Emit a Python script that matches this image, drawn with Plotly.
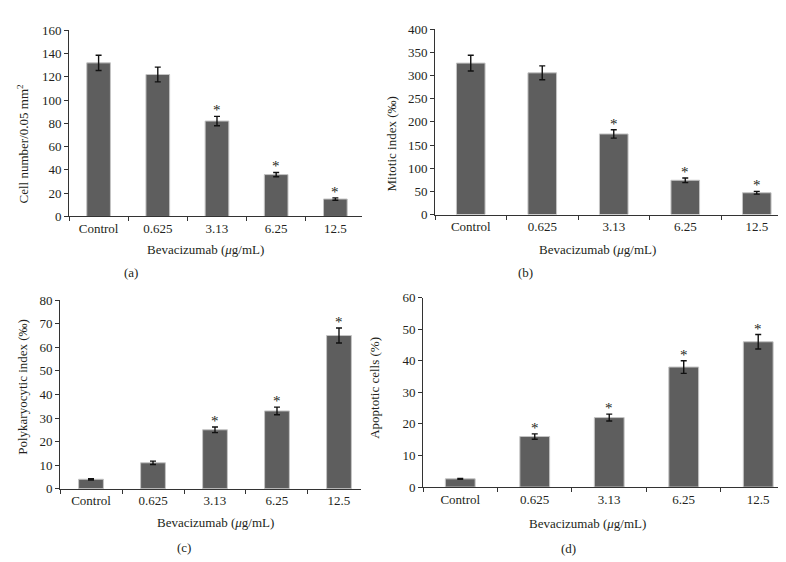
import plotly.graph_objects as go

categories = ["Control", "0.625", "3.13", "6.25", "12.5"]

cell_number = [132, 122, 82, 36, 15]
cell_number_err = [6.5, 6.3, 4, 1.8, 1]
cell_number_sig = [False, False, True, True, True]

mitotic_index = [327, 306, 174, 74, 47]
mitotic_index_err = [17, 15, 9, 5, 3]
mitotic_index_sig = [False, False, True, True, True]

polykaryocytic_index = [4, 11, 25, 33, 65]
polykaryocytic_index_err = [0.3, 0.7, 1.2, 1.6, 3.2]
polykaryocytic_index_sig = [False, False, True, True, True]

apoptotic_cells = [2.6, 16, 22, 38, 46]
apoptotic_cells_err = [0.15, 0.85, 1.1, 2.0, 2.3]
apoptotic_cells_sig = [False, True, True, True, True]

x_title = "Bevacizumab (<i>μ</i>g/mL)"

FONT = "Liberation Serif"
W, H = 786, 562

def px(x):
    return x / W

def py(y):
    return (H - y) / H

panels = [
    dict(vals=cell_number, err=cell_number_err, sig=cell_number_sig,
         xdom=[61, 354], ydom=[207, 15.7], xr=[-0.5, 4.45], yr=[0, 160], dt=20,
         ytitle="Cell number/0.05 mm<sup>2</sup>", ytx=15, yty=133,
         xtx=198, xty=241, lab="(a)", labx=123, laby=265),
    dict(vals=mitotic_index, err=mitotic_index_err, sig=mitotic_index_sig,
         xdom=[427, 777], ydom=[205, 14.7], xr=[-0.5, 4.395], yr=[0, 400], dt=50,
         ytitle="Mitotic index (‰)", ytx=383, yty=133,
         xtx=589, xty=241, lab="(b)", labx=517, laby=265),
    dict(vals=polykaryocytic_index, err=polykaryocytic_index_err, sig=polykaryocytic_index_sig,
         xdom=[52, 353], ydom=[486.7, 293], xr=[-0.5, 4.355], yr=[0, 80], dt=10,
         ytitle="Polykaryocytic index (‰)", ytx=15, yty=382,
         xtx=207, xty=521, lab="(c)", labx=176, laby=547),
    dict(vals=apoptotic_cells, err=apoptotic_cells_err, sig=apoptotic_cells_sig,
         xdom=[415, 776], ydom=[485, 290.3], xr=[-0.5, 4.346], yr=[0, 60], dt=10,
         ytitle="Apoptotic cells (%)", ytx=367, yty=383,
         xtx=579, xty=522, lab="(d)", labx=560, laby=548),
]

fig = go.Figure()
annotations = []
layout = {}

for i, p in enumerate(panels, start=1):
    xa = "x" if i == 1 else f"x{i}"
    ya = "y" if i == 1 else f"y{i}"
    fig.add_trace(go.Bar(
        x=categories, y=p["vals"], xaxis=xa, yaxis=ya, width=0.4,
        marker=dict(color="#5e5e5e", line=dict(color="#c4c4c4", width=1)),
        error_y=dict(type="data", array=p["err"], visible=True,
                     color="#111111", thickness=1.4, width=3),
        showlegend=False,
    ))
    xkey = "xaxis" if i == 1 else f"xaxis{i}"
    ykey = "yaxis" if i == 1 else f"yaxis{i}"
    layout[xkey] = dict(
        domain=[px(p["xdom"][0]), px(p["xdom"][1])], anchor=ya,
        type="category", range=p["xr"], tickson="boundaries",
        ticks="outside", ticklen=4, tickcolor="#333", tickwidth=1,
        showline=True, linecolor="#333", linewidth=1, showgrid=False,
        zeroline=False, tickfont=dict(family=FONT, size=13, color="#231f20"),
        fixedrange=True,
    )
    layout[ykey] = dict(
        domain=[py(p["ydom"][0]), py(p["ydom"][1])], anchor=xa,
        range=p["yr"], dtick=p["dt"], tick0=0,
        ticks="outside", ticklen=4, tickcolor="#333", tickwidth=1,
        showline=True, linecolor="#333", linewidth=1, showgrid=False,
        zeroline=False, tickfont=dict(family=FONT, size=13, color="#231f20"),
        fixedrange=True,
    )
    for idx, (v, e, s) in enumerate(zip(p["vals"], p["err"], p["sig"])):
        if s:
            annotations.append(dict(
                x=idx, y=v + e, xref=xa, yref=ya, text="*", showarrow=False,
                yanchor="bottom", yshift=-4,
                font=dict(family=FONT, size=15, color="#231f20"),
            ))
    annotations.append(dict(
        x=px(p["ytx"]), y=py(p["yty"]), xref="paper", yref="paper",
        text=p["ytitle"], textangle=-90, showarrow=False,
        xanchor="center", yanchor="middle",
        font=dict(family=FONT, size=13, color="#231f20"),
    ))
    annotations.append(dict(
        x=px(p["xtx"]), y=py(p["xty"]), xref="paper", yref="paper",
        text=x_title, showarrow=False, xanchor="center", yanchor="middle",
        font=dict(family=FONT, size=13, color="#231f20"),
    ))
    annotations.append(dict(
        x=px(p["labx"]), y=py(p["laby"]), xref="paper", yref="paper",
        text=p["lab"], showarrow=False, xanchor="center", yanchor="middle",
        font=dict(family=FONT, size=13, color="#231f20"),
    ))

fig.update_layout(
    width=W, height=H, margin=dict(l=0, r=0, t=0, b=0),
    paper_bgcolor="white", plot_bgcolor="white",
    annotations=annotations, bargap=0.6, **layout,
)

fig.write_html("out.html")
